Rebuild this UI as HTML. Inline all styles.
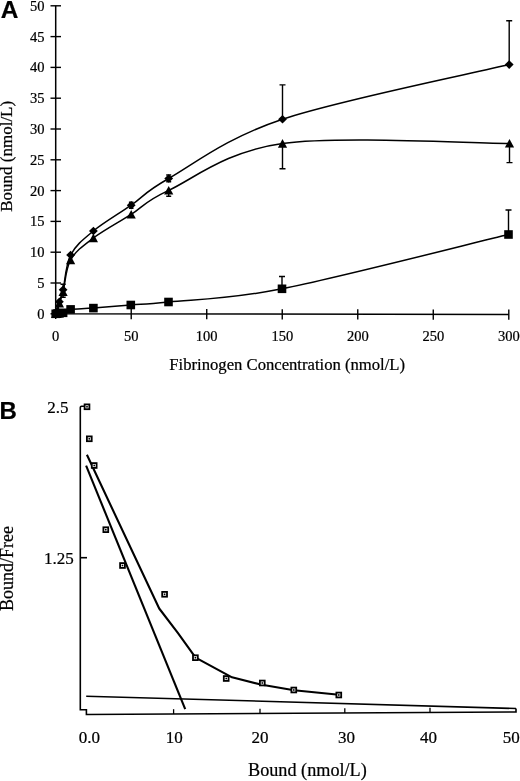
<!DOCTYPE html>
<html><head><meta charset="utf-8"><title>Figure</title>
<style>
html,body{margin:0;padding:0;background:#fff;}
svg{display:block;will-change:transform;font-family:"Liberation Serif",serif;fill:#000;}
text{stroke:#000;stroke-width:0.22px;}
</style></head>
<body>
<svg width="520" height="781" viewBox="0 0 520 781">
<rect width="520" height="781" fill="#fff"/>
<path d="M55.7 5.8 V313.8 L508.8 314.5" fill="none" stroke="#000" stroke-width="1.5"/>
<path d="M50.5 313.80 H61.0" stroke="#000" stroke-width="1.4"/>
<text x="44.6" y="318.70" text-anchor="end" font-size="14.5">0</text>
<path d="M50.5 283.00 H61.0" stroke="#000" stroke-width="1.4"/>
<text x="44.6" y="287.90" text-anchor="end" font-size="14.5">5</text>
<path d="M50.5 252.20 H61.0" stroke="#000" stroke-width="1.4"/>
<text x="44.6" y="257.10" text-anchor="end" font-size="14.5">10</text>
<path d="M50.5 221.40 H61.0" stroke="#000" stroke-width="1.4"/>
<text x="44.6" y="226.30" text-anchor="end" font-size="14.5">15</text>
<path d="M50.5 190.60 H61.0" stroke="#000" stroke-width="1.4"/>
<text x="44.6" y="195.50" text-anchor="end" font-size="14.5">20</text>
<path d="M50.5 159.80 H61.0" stroke="#000" stroke-width="1.4"/>
<text x="44.6" y="164.70" text-anchor="end" font-size="14.5">25</text>
<path d="M50.5 129.00 H61.0" stroke="#000" stroke-width="1.4"/>
<text x="44.6" y="133.90" text-anchor="end" font-size="14.5">30</text>
<path d="M50.5 98.20 H61.0" stroke="#000" stroke-width="1.4"/>
<text x="44.6" y="103.10" text-anchor="end" font-size="14.5">35</text>
<path d="M50.5 67.40 H61.0" stroke="#000" stroke-width="1.4"/>
<text x="44.6" y="72.30" text-anchor="end" font-size="14.5">40</text>
<path d="M50.5 36.60 H61.0" stroke="#000" stroke-width="1.4"/>
<text x="44.6" y="41.50" text-anchor="end" font-size="14.5">45</text>
<path d="M50.5 5.80 H61.0" stroke="#000" stroke-width="1.4"/>
<text x="44.6" y="10.70" text-anchor="end" font-size="14.5">50</text>
<path d="M55.70 308.80 V319.10" stroke="#000" stroke-width="1.4"/>
<text x="55.70" y="340.8" text-anchor="middle" font-size="14.5">0</text>
<path d="M131.22 308.92 V319.22" stroke="#000" stroke-width="1.4"/>
<text x="131.22" y="340.8" text-anchor="middle" font-size="14.5">50</text>
<path d="M206.73 309.03 V319.33" stroke="#000" stroke-width="1.4"/>
<text x="206.73" y="340.8" text-anchor="middle" font-size="14.5">100</text>
<path d="M282.25 309.15 V319.45" stroke="#000" stroke-width="1.4"/>
<text x="282.25" y="340.8" text-anchor="middle" font-size="14.5">150</text>
<path d="M357.76 309.27 V319.57" stroke="#000" stroke-width="1.4"/>
<text x="357.76" y="340.8" text-anchor="middle" font-size="14.5">200</text>
<path d="M433.27 309.38 V319.69" stroke="#000" stroke-width="1.4"/>
<text x="433.27" y="340.8" text-anchor="middle" font-size="14.5">250</text>
<path d="M508.79 309.50 V319.80" stroke="#000" stroke-width="1.4"/>
<text x="508.79" y="340.8" text-anchor="middle" font-size="14.5">300</text>
<text x="287.2" y="369.6" text-anchor="middle" font-size="16.65">Fibrinogen Concentration (nmol/L)</text>
<text transform="translate(12.3 211.8) rotate(-90)" font-size="17">Bound (nmol/L)</text>
<text x="0.8" y="18.4" font-family="Liberation Sans, sans-serif" font-weight="bold" font-size="24.4" stroke="none">A</text>
<path d="M55.70 313.80 C55.95 313.33 56.58 313.00 57.20 311.00 C57.82 309.00 58.42 305.33 59.40 301.80 C60.38 298.27 61.23 297.60 63.10 289.80 C64.97 282.00 65.55 264.80 70.60 255.00 C75.65 245.20 83.30 239.30 93.40 231.00 C103.50 222.70 118.65 213.95 131.20 205.20 C143.75 196.45 143.48 192.83 168.70 178.50 C193.92 164.17 225.75 138.18 282.50 119.20 C339.25 100.22 471.42 73.70 509.20 64.60" fill="none" stroke="#000" stroke-width="1.5"/>
<path d="M55.70 313.80 C55.95 313.50 56.58 313.77 57.20 312.00 C57.82 310.23 58.42 306.57 59.40 303.20 C60.38 299.83 61.23 299.00 63.10 291.80 C64.97 284.60 65.55 268.97 70.60 260.00 C75.65 251.03 83.30 245.60 93.40 238.00 C103.50 230.40 118.65 222.33 131.20 214.40 C143.75 206.47 143.48 202.22 168.70 190.40 C193.92 178.58 225.70 151.33 282.50 143.50 C339.30 135.67 471.67 143.42 509.50 143.40" fill="none" stroke="#000" stroke-width="1.5"/>
<path d="M55.70 313.80 C55.95 313.78 56.58 313.77 57.20 313.70 C57.82 313.63 58.42 313.55 59.40 313.40 C60.38 313.25 61.23 313.47 63.10 312.80 C64.97 312.13 65.55 310.18 70.60 309.40 C75.65 308.62 83.37 308.83 93.40 308.10 C103.43 307.37 118.28 306.02 130.80 305.00 C143.32 303.98 143.30 304.70 168.50 302.00 C193.70 299.30 225.33 300.05 282.00 288.80 C338.67 277.55 470.75 243.55 508.50 234.50" fill="none" stroke="#000" stroke-width="1.5"/>
<path d="M509.2 64.6 V20.8 M506.2 20.8 H512.2" fill="none" stroke="#000" stroke-width="1.4"/>
<path d="M282.5 119.2 V84.9 M279.5 84.9 H285.5" fill="none" stroke="#000" stroke-width="1.4"/>
<path d="M509.5 143.4 V162.6 M506.5 162.6 H512.5" fill="none" stroke="#000" stroke-width="1.4"/>
<path d="M282.5 143.5 V168.8 M279.5 168.8 H285.5" fill="none" stroke="#000" stroke-width="1.4"/>
<path d="M508.5 234.5 V210 M505.5 210 H511.5" fill="none" stroke="#000" stroke-width="1.4"/>
<path d="M282 288.8 V276.5 M279 276.5 H285" fill="none" stroke="#000" stroke-width="1.4"/>
<path d="M168.7 178.5 V175 M166.2 175 H171.2" fill="none" stroke="#000" stroke-width="1.4"/>
<path d="M168.7 178.5 V181.7 M166.2 181.7 H171.2" fill="none" stroke="#000" stroke-width="1.4"/>
<path d="M168.7 190.4 V196.3 M166.2 196.3 H171.2" fill="none" stroke="#000" stroke-width="1.4"/>
<path d="M131.2 205.2 V202.2 M128.89999999999998 202.2 H133.5" fill="none" stroke="#000" stroke-width="1.4"/>
<path d="M131.2 205.2 V208.3 M128.89999999999998 208.3 H133.5" fill="none" stroke="#000" stroke-width="1.4"/>
<path d="M63.1 289.8 V284.3 M60.5 284.3 H65.7" fill="none" stroke="#000" stroke-width="1.4"/>
<path d="M63.1 291.8 V297.3 M60.5 297.3 H65.7" fill="none" stroke="#000" stroke-width="1.4"/>
<path d="M55.7 309.5 L60.1 313.8 L55.7 318.1 L51.300000000000004 313.8 Z" fill="#000"/>
<path d="M57.2 306.7 L61.6 311 L57.2 315.3 L52.800000000000004 311 Z" fill="#000"/>
<path d="M59.4 297.5 L63.8 301.8 L59.4 306.1 L55.0 301.8 Z" fill="#000"/>
<path d="M63.1 285.5 L67.5 289.8 L63.1 294.1 L58.7 289.8 Z" fill="#000"/>
<path d="M70.6 250.7 L75.0 255 L70.6 259.3 L66.19999999999999 255 Z" fill="#000"/>
<path d="M93.4 226.7 L97.80000000000001 231 L93.4 235.3 L89.0 231 Z" fill="#000"/>
<path d="M131.2 200.89999999999998 L135.6 205.2 L131.2 209.5 L126.79999999999998 205.2 Z" fill="#000"/>
<path d="M168.7 174.2 L173.1 178.5 L168.7 182.8 L164.29999999999998 178.5 Z" fill="#000"/>
<path d="M282.5 114.9 L286.9 119.2 L282.5 123.5 L278.1 119.2 Z" fill="#000"/>
<path d="M509.2 60.3 L513.6 64.6 L509.2 68.89999999999999 L504.8 64.6 Z" fill="#000"/>
<path d="M55.7 309.40000000000003 L60.300000000000004 318.0 H51.1 Z" fill="#000"/>
<path d="M57.2 307.6 L61.800000000000004 316.2 H52.6 Z" fill="#000"/>
<path d="M59.4 298.8 L64.0 307.4 H54.8 Z" fill="#000"/>
<path d="M63.1 287.40000000000003 L67.7 296.0 H58.5 Z" fill="#000"/>
<path d="M70.6 255.6 L75.19999999999999 264.2 H66.0 Z" fill="#000"/>
<path d="M93.4 233.6 L98.0 242.2 H88.80000000000001 Z" fill="#000"/>
<path d="M131.2 210.0 L135.79999999999998 218.6 H126.6 Z" fill="#000"/>
<path d="M168.7 186.0 L173.29999999999998 194.6 H164.1 Z" fill="#000"/>
<path d="M282.5 139.1 L287.1 147.7 H277.9 Z" fill="#000"/>
<path d="M509.5 139.0 L514.1 147.6 H504.9 Z" fill="#000"/>
<rect x="51.400000000000006" y="309.5" width="8.6" height="8.6" fill="#000"/>
<rect x="52.900000000000006" y="309.4" width="8.6" height="8.6" fill="#000"/>
<rect x="55.1" y="309.09999999999997" width="8.6" height="8.6" fill="#000"/>
<rect x="58.800000000000004" y="308.5" width="8.6" height="8.6" fill="#000"/>
<rect x="66.3" y="305.09999999999997" width="8.6" height="8.6" fill="#000"/>
<rect x="89.10000000000001" y="303.8" width="8.6" height="8.6" fill="#000"/>
<rect x="126.50000000000001" y="300.7" width="8.6" height="8.6" fill="#000"/>
<rect x="164.2" y="297.7" width="8.6" height="8.6" fill="#000"/>
<rect x="277.7" y="284.5" width="8.6" height="8.6" fill="#000"/>
<rect x="504.2" y="230.2" width="8.6" height="8.6" fill="#000"/>
<path d="M85.5 406.3 H81.5 Q80.3 406.3 80.3 407.5 V709.8 H86.4 V714.5 L516 712 V708.5" fill="none" stroke="#000" stroke-width="1.6" stroke-linejoin="miter"/>
<path d="M80.3 557.7 H87" stroke="#000" stroke-width="1.6"/>
<path d="M173.6 713.99 V709.19" stroke="#000" stroke-width="1.3"/>
<path d="M260 713.49 V708.69" stroke="#000" stroke-width="1.3"/>
<path d="M344.8 713.00 V708.20" stroke="#000" stroke-width="1.3"/>
<path d="M430 712.50 V707.70" stroke="#000" stroke-width="1.3"/>
<text x="89.3" y="743.1" text-anchor="middle" font-size="17">0.0</text>
<text x="174.2" y="743.1" text-anchor="middle" font-size="17">10</text>
<text x="260" y="743.1" text-anchor="middle" font-size="17">20</text>
<text x="346.5" y="743.1" text-anchor="middle" font-size="17">30</text>
<text x="428.6" y="743.1" text-anchor="middle" font-size="17">40</text>
<text x="511.3" y="743.1" text-anchor="middle" font-size="17">50</text>
<text x="68.6" y="412.6" text-anchor="end" font-size="17">2.5</text>
<text x="73.8" y="563.8" text-anchor="end" font-size="17">1.25</text>
<text x="307.4" y="776.2" text-anchor="middle" font-size="18.2">Bound (nmol/L)</text>
<text transform="translate(13.3 611) rotate(-90)" font-size="18">Bound/Free</text>
<text x="-0.5" y="419.3" font-family="Liberation Sans, sans-serif" font-weight="bold" font-size="24" stroke="none">B</text>
<path d="M86.1 465.6 L185.2 709.2" stroke="#000" stroke-width="2.1" fill="none"/>
<path d="M86.9 454.8 L159.2 608.5 L178 633.2 L195.6 657.7 L232 677.3 L262 684.8 L294 690.3 L339 694.8" stroke="#000" stroke-width="2.1" fill="none" stroke-linejoin="round"/>
<path d="M86.2 696.2 L516 708.5" stroke="#000" stroke-width="1.6" fill="none"/>
<rect x="84.6" y="404.40000000000003" width="4.8" height="4.8" fill="#fff" stroke="#000" stroke-width="1.8"/>
<rect x="86.2" y="406.0" width="1.6" height="1.6" fill="#000"/>
<rect x="86.89999999999999" y="436.40000000000003" width="4.8" height="4.8" fill="#fff" stroke="#000" stroke-width="1.8"/>
<rect x="88.5" y="438.0" width="1.6" height="1.6" fill="#000"/>
<rect x="91.8" y="463.1" width="4.8" height="4.8" fill="#fff" stroke="#000" stroke-width="1.8"/>
<rect x="93.4" y="464.7" width="1.6" height="1.6" fill="#000"/>
<rect x="103.39999999999999" y="527.3000000000001" width="4.8" height="4.8" fill="#fff" stroke="#000" stroke-width="1.8"/>
<rect x="105.0" y="528.9000000000001" width="1.6" height="1.6" fill="#000"/>
<rect x="120.1" y="563.1" width="4.8" height="4.8" fill="#fff" stroke="#000" stroke-width="1.8"/>
<rect x="121.7" y="564.7" width="1.6" height="1.6" fill="#000"/>
<rect x="162.2" y="591.9" width="4.8" height="4.8" fill="#fff" stroke="#000" stroke-width="1.8"/>
<rect x="163.79999999999998" y="593.5" width="1.6" height="1.6" fill="#000"/>
<rect x="193.0" y="655.3000000000001" width="4.8" height="4.8" fill="#fff" stroke="#000" stroke-width="1.8"/>
<rect x="194.6" y="656.9000000000001" width="1.6" height="1.6" fill="#000"/>
<rect x="223.79999999999998" y="676.1" width="4.8" height="4.8" fill="#fff" stroke="#000" stroke-width="1.8"/>
<rect x="225.39999999999998" y="677.7" width="1.6" height="1.6" fill="#000"/>
<rect x="259.90000000000003" y="680.6" width="4.8" height="4.8" fill="#fff" stroke="#000" stroke-width="1.8"/>
<rect x="261.5" y="682.2" width="1.6" height="1.6" fill="#000"/>
<rect x="291.40000000000003" y="687.6" width="4.8" height="4.8" fill="#fff" stroke="#000" stroke-width="1.8"/>
<rect x="293.0" y="689.2" width="1.6" height="1.6" fill="#000"/>
<rect x="336.40000000000003" y="692.6" width="4.8" height="4.8" fill="#fff" stroke="#000" stroke-width="1.8"/>
<rect x="338.0" y="694.2" width="1.6" height="1.6" fill="#000"/>
</svg>
</body></html>
